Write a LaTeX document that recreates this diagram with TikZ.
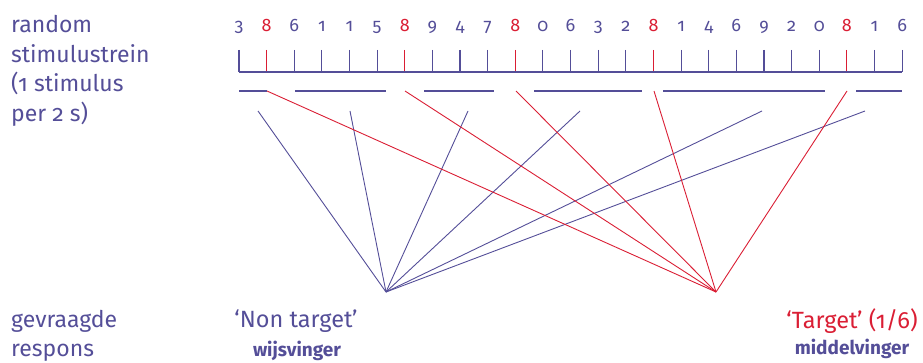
\documentclass[tikz,border=0pt]{standalone}
\usepackage{fontspec}
\setmainfont[Numbers=OldStyle]{Fira Sans}
\usetikzlibrary{positioning}
\definecolor{stimpurple}{RGB}{84,78,152}
\definecolor{stimred}{RGB}{218,30,52}

\begin{document}
\begin{tikzpicture}[
    x=1pt, y=-1pt,
    caption/.style={
        font=\fontsize{23}{29.5}\selectfont,
        text=stimpurple,
        align=left,
        inner sep=0pt,
        anchor=north west
    },
    digit/.style={font=\fontsize{18}{18}\selectfont, inner sep=0pt, anchor=base},
    tickline/.style={line width=1.1pt},
    bar/.style={stimpurple, line width=1.1pt},
    nontargetline/.style={stimpurple, line width=0.9pt},
    targetline/.style={stimred, line width=0.9pt},
    answer/.style={font=\fontsize{23.5}{23.5}\selectfont, inner sep=0pt, anchor=base},
    finger/.style={font=\fontsize{19}{19}\selectfont\bfseries, text=stimpurple, inner sep=0pt, anchor=base}
]
    \useasboundingbox (0,0) rectangle (923,363);

    % Labels left
    \node[caption] (stimtext) at (11,15.5) {random\\stimulustrein\\(1 stimulus\\per 2 s)};
    \node[caption] (resptext) at (11,310) {gevraagde\\respons};

    % Stimulus train
    \foreach \d [count=\i from 0] in {3,8,6,1,1,5,8,9,4,7,8,0,6,3,2,8,1,4,6,9,2,0,8,1,6} {
        \ifnum\d=8 \def\col{stimred}\else\def\col{stimpurple}\fi
        \pgfmathsetmacro\xx{239+27.63*\i}
        \node[digit, text=\col] (d\i) at (\xx,32) {\d};
        \coordinate (tt\i) at (\xx,50);
        \coordinate (tb\i) at (\xx,72);
        \draw[tickline, \col] (tt\i) -- (tb\i);
    }
    \draw[tickline, stimpurple] (tb0) -- (tb24);

    % Intervals between targets
    \foreach \a/\b [count=\k] in {239/267, 295/386, 424/494, 534/642, 663/825, 856/902} {
        \coordinate (bs\k) at (\a,91);
        \coordinate (be\k) at (\b,91);
        \draw[bar] (bs\k) -- (be\k);
    }

    % Responses
    \coordinate (nontarget) at (386,292);
    \coordinate (target) at (716,292);

    \foreach \x [count=\k] in {258,350,468,580,762,865} {
        \coordinate (ps\k) at (\x,111);
        \draw[nontargetline] (ps\k) -- (nontarget);
    }
    \foreach \x [count=\k] in {267,405,516,654,847} {
        \coordinate (rs\k) at (\x,91);
        \draw[targetline] (rs\k) -- (target);
    }

    \node[answer, text=stimpurple] (ntlabel) at (296,327) {‘Non target’};
    \node[finger] (index) at (297,356) {wijsvinger};
    \node[answer, text=stimred] (tlabel) at (852,328) {‘Target’ (1/6)};
    \node[finger] (middle) at (852,354) {middelvinger};
\end{tikzpicture}
\end{document}
